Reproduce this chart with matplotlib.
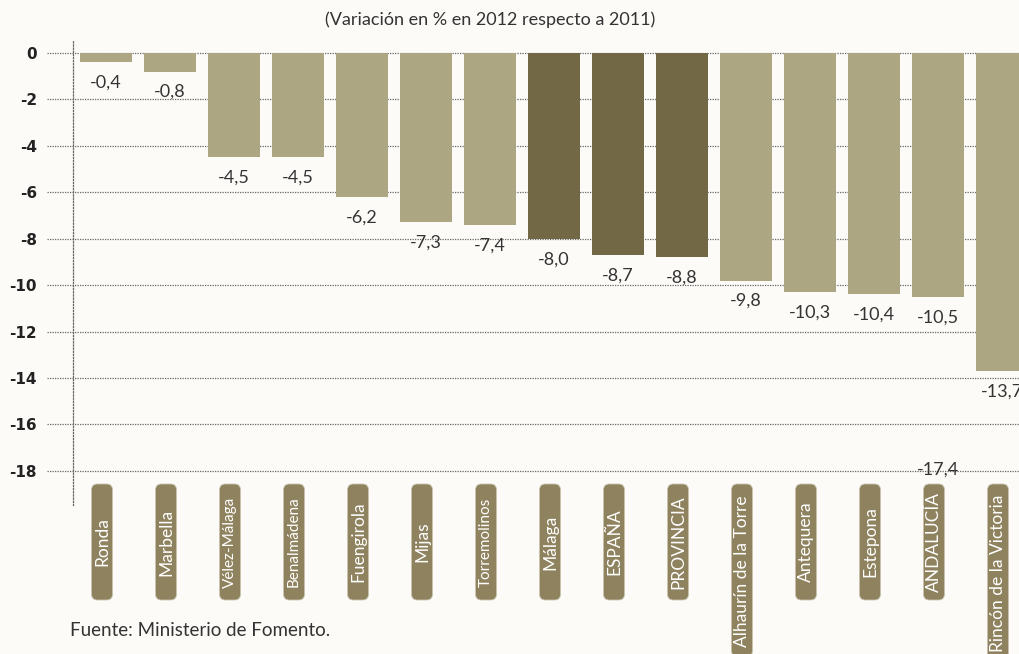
import matplotlib
matplotlib.use('Agg')
import matplotlib.pyplot as plt
from matplotlib.patches import FancyBboxPatch
from matplotlib.transforms import IdentityTransform

# Datos: variación en % en 2012 respecto a 2011
categories = ['Ronda', 'Marbella', 'Vélez-Málaga', 'Benalmádena', 'Fuengirola',
              'Mijas', 'Torremolinos', 'Málaga', 'ESPAÑA', 'PROVINCIA',
              'Alhaurín de la Torre', 'Antequera', 'Estepona', 'ANDALUCÍA',
              'Rincón de la Victoria']
values = [-0.4, -0.8, -4.5, -4.5, -6.2, -7.3, -7.4, -8.0, -8.7, -8.8,
          -9.8, -10.3, -10.4, -10.5, -13.7]
highlight = ['Málaga', 'ESPAÑA', 'PROVINCIA']
small_labels = ['Vélez-Málaga', 'Benalmádena', 'Torremolinos']
# etiqueta suelta que aparece en el original junto a ANDALUCÍA
stray_label = ('ANDALUCÍA', -17.4)
yticks = list(range(0, -20, -2))

BG = '#fcfbf8'
LIGHT = '#ada683'
DARK = '#726846'
BOX = '#8f825e'
TXT = '#333333'
FONT = ['Lato', 'DejaVu Sans']

plt.rcParams['font.family'] = FONT

W, H = 1019, 654
fig = plt.figure(figsize=(W / 100, H / 100), dpi=100, facecolor=BG)
# axes: spine at x=73px, top 40px, bottom 505px
ax = fig.add_axes([73 / W, (H - 505) / H, (W - 73) / W, 465 / H])
ax.set_facecolor(BG)

x = list(range(len(categories)))
colors = [DARK if c in highlight else LIGHT for c in categories]
ax.bar(x, values, width=0.8125, color=colors, zorder=3)

ax.set_xlim(-0.516, 14.266)
ax.set_ylim(-19.47, 0.56)

# dotted grid, extended a bit to the left of the axis
for t in yticks:
    ax.axhline(t, xmin=-0.027, xmax=1, color='#666666', lw=0.9, ls=(0, (1, 1)),
               clip_on=False, zorder=1)
for s in ['top', 'right', 'bottom']:
    ax.spines[s].set_visible(False)
ax.spines['left'].set_linestyle((0, (1, 1.5)))
ax.spines['left'].set_color('#666666')
ax.spines['left'].set_linewidth(0.9)

ax.set_yticks(yticks)
ax.set_yticklabels([str(t) for t in yticks], fontsize=11, fontweight='bold',
                   color='#222222', family=['DejaVu Sans'])
ax.tick_params(axis='y', length=0, pad=26)
ax.set_xticks([])

# value labels under the bars
for xi, v in zip(x, values):
    ax.annotate(f'{v:.1f}'.replace('.', ','), (xi, v), xytext=(0, -9),
                textcoords='offset points', ha='center', va='top',
                fontsize=13, color=TXT, zorder=4)
ax.annotate(f'{stray_label[1]:.1f}'.replace('.', ','),
            (categories.index(stray_label[0]), stray_label[1]),
            xytext=(0, -9), textcoords='offset points', ha='center',
            va='center', fontsize=13, color=TXT, zorder=4)

fig.text(490 / W, 1 - 20 / H, '(Variación en % en 2012 respecto a 2011)',
         ha='center', va='center', fontsize=13, color=TXT)
fig.text(70 / W, 1 - 630 / H, 'Fuente: Ministerio de Fomento.',
         ha='left', va='center', fontsize=13.5, color=TXT)

# category labels in rounded boxes
renderer = fig.canvas.get_renderer()
box_top = H - 484
box_bot = H - 600
box_w = 21
for xi, cat in zip(x, categories):
    px = ax.transData.transform((xi, 0))[0] - 4
    fs = 11 if cat in small_labels else 12.5
    txt = fig.text(px / W, (box_top + box_bot) / 2 / H, cat, rotation=90,
                   ha='center', va='center', fontsize=fs, color='white',
                   zorder=6)
    th = txt.get_window_extent(renderer).height
    bottom = box_bot
    if th > (box_top - box_bot) - 12:
        txt.set_va('top')
        txt.set_y((box_top - 11) / H)
        bottom = box_top - 11 - th - 10
    r = 6
    patch = FancyBboxPatch((px - box_w / 2 + r, bottom + r), box_w - 2 * r,
                           box_top - bottom - 2 * r,
                           boxstyle=f'round,pad={r},rounding_size={r}',
                           transform=IdentityTransform(), facecolor=BOX,
                           edgecolor='#c9c2ad', lw=0.6, zorder=5)
    fig.patches.append(patch)

fig.savefig('out.png', dpi=100, facecolor=BG)
